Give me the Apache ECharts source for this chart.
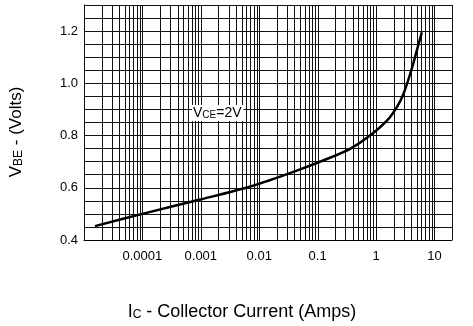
<!DOCTYPE html>
<html>
<head>
<meta charset="utf-8">
<script src="https://cdn.jsdelivr.net/npm/echarts@6/dist/echarts.min.js"></script>
<style>
html,body{margin:0;padding:0;background:#fff;}
#chart{width:473px;height:326px;}
</style>
</head>
<body>
<div id="chart"></div>
<script>
// Collector current (A) and base-emitter voltage (V)
const currentA = [1.54e-5, 1.17e-4, 1.02e-3, 7.3e-3, 0.0396, 0.167, 0.366, 0.80, 1.55, 2.29, 2.96, 4.12, 5.0, 6.09];
const vbe      = [0.453, 0.504, 0.556, 0.606, 0.662, 0.716, 0.750, 0.801, 0.858, 0.910, 0.960, 1.058, 1.126, 1.195];
const xTickLabels = {'-4':'0.0001','-3':'0.001','-2':'0.01','-1':'0.1','0':'1','1':'10'};
const yLabelValues = [0.4, 0.6, 0.8, 1.0, 1.2];
const xMin = 1e-5, xMax = 20;
const yMin = 0.4, yMax = 1.3;

const FONT = '"Liberation Sans", Arial, Helvetica, sans-serif';

// vertical grid lines at k*10^n
const vLines = [];
for (let n = -5; n <= 1; n++) {
  for (let k = 1; k <= 9; k++) {
    const v = k * Math.pow(10, n);
    if (v >= xMin * 0.999 && v <= xMax * 1.001) vLines.push([v, yMin]);
  }
}

const chart = echarts.init(document.getElementById('chart'), null, {renderer: 'canvas'});
chart.setOption({
  animation: false,
  backgroundColor: '#fff',
  textStyle: {fontFamily: FONT},
  grid: {left: 82, right: 21, top: 5, bottom: 78},
  xAxis: {
    type: 'log',
    logBase: 10,
    min: xMin,
    max: xMax,
    axisLine: {show: true, lineStyle: {color: '#000', width: 1}},
    axisTick: {show: false},
    splitLine: {show: false},
    axisLabel: {
      color: '#000', fontSize: 13, fontFamily: FONT, margin: 10,
      formatter: function (v) {
        const e = Math.round(Math.log10(v));
        if (Math.abs(Math.log10(v) - e) > 1e-6) return '';
        return xTickLabels[String(e)] || '';
      }
    },
    name: '{a|I}{b|C}{a| - Collector Current (Amps)}',
    nameLocation: 'middle',
    nameGap: 63,
    nameTextStyle: {
      padding: [0, 52, 0, 0],
      rich: {
        a: {fontSize: 18, color: '#000', fontFamily: FONT, verticalAlign: 'bottom'},
        b: {fontSize: 12, color: '#000', fontFamily: FONT, verticalAlign: 'bottom'}
      }
    }
  },
  yAxis: {
    type: 'value',
    min: yMin,
    max: yMax,
    interval: 0.05,
    axisLine: {show: true, lineStyle: {color: '#000', width: 1}},
    axisTick: {show: false},
    splitLine: {show: true, lineStyle: {color: '#111', width: 1}},
    axisLabel: {
      color: '#000', fontSize: 13, fontFamily: FONT, margin: 6,
      formatter: function (v) {
        for (const t of yLabelValues) if (Math.abs(v - t) < 1e-6) return t.toFixed(1);
        return '';
      }
    },
    name: '{a|V}{b|BE}{a| - (Volts)}',
    nameLocation: 'middle',
    nameGap: 59,
    nameTextStyle: {
      padding: [0, 19, 0, 0],
      rich: {
        a: {fontSize: 17, color: '#000', fontFamily: FONT, verticalAlign: 'bottom'},
        b: {fontSize: 12, color: '#000', fontFamily: FONT, verticalAlign: 'bottom'}
      }
    }
  },
  graphic: [{
    type: 'text',
    left: 192,
    top: 105,
    z: 100,
    style: {
      text: '{a|V}{b|CE}{a|=2V}',
      backgroundColor: '#fff',
      padding: [1, 2, 1, 1],
      rich: {
        a: {fontSize: 14, fill: '#000', color: '#000', fontFamily: FONT, verticalAlign: 'bottom'},
        b: {fontSize: 10, fill: '#000', color: '#000', fontFamily: FONT, verticalAlign: 'bottom'}
      }
    }
  }],
  series: [
    {
      type: 'custom',
      z: 1,
      silent: true,
      data: vLines,
      encode: {x: 0, y: 1},
      clip: false,
      renderItem: function (params, api) {
        const v = api.value(0);
        const p1 = api.coord([v, yMin]);
        const p2 = api.coord([v, yMax]);
        const x = Math.round(p1[0]) + 0.5;
        return {
          type: 'line',
          shape: {x1: x, y1: p1[1], x2: x, y2: p2[1]},
          style: {stroke: '#111', lineWidth: 1}
        };
      }
    },
    {
      type: 'line',
      z: 5,
      data: currentA.map((x, i) => [x, vbe[i]]),
      smooth: 0.3,
      symbol: 'none',
      lineStyle: {color: '#000', width: 2.5}
    }
  ]
});
</script>
</body>
</html>
